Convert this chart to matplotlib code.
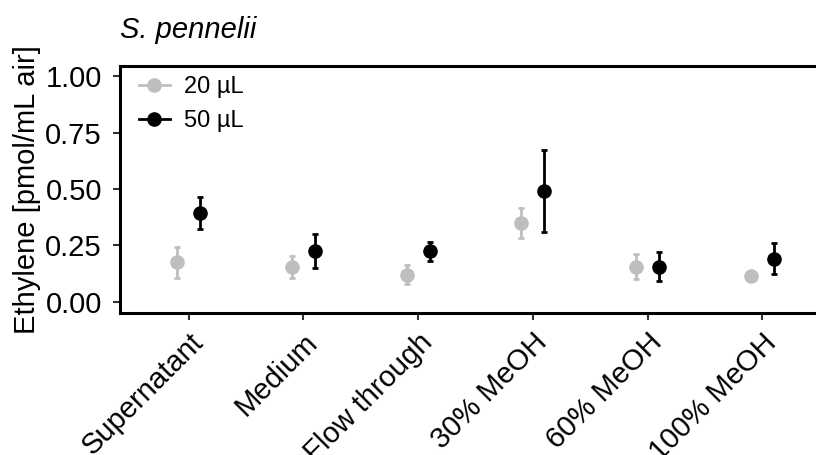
import matplotlib
matplotlib.use("Agg")
import matplotlib.pyplot as plt
from matplotlib.lines import Line2D
import numpy as np

plt.rcParams['font.family'] = ['Liberation Sans', 'DejaVu Sans']

categories = ["Supernatant", "Medium", "Flow through", "30% MeOH", "60% MeOH", "100% MeOH"]
mean_20 = [0.174, 0.153, 0.120, 0.348, 0.156, 0.115]
err_20 = [0.070, 0.050, 0.042, 0.067, 0.055, 0.008]
mean_50 = [0.393, 0.224, 0.223, 0.491, 0.155, 0.190]
err_50 = [0.072, 0.075, 0.043, 0.183, 0.064, 0.069]
series_labels = ["20 µL", "50 µL"]
colors = ["#BEBEBE", "#000000"]

W, H = 816, 455
fig = plt.figure(figsize=(W / 100, H / 100), dpi=100)
ax = fig.add_axes([120 / W, 1 - 313 / H, (831 - 120) / W, (313 - 66) / H])

x = np.arange(1, len(categories) + 1)
dodge = 0.1
for off, m, e, c in [(-dodge, mean_20, err_20, colors[0]), (dodge, mean_50, err_50, colors[1])]:
    ax.errorbar(x + off, m, yerr=e, fmt='o', color=c, ecolor=c, markersize=9.5,
                elinewidth=2.0, capsize=2.2, capthick=2.0, zorder=3)

ax.set_xlim(0.4, 6.6)
ax.set_ylim(-0.05, 1.045)
ax.set_yticks([0, 0.25, 0.5, 0.75, 1.0])
ax.set_yticklabels(["0.00", "0.25", "0.50", "0.75", "1.00"])
ax.set_xticks(x)
ax.set_xticklabels(categories, rotation=45, ha='right', va='top', rotation_mode='anchor')
ax.tick_params(axis='both', labelsize=21, length=5, width=1.5, color='#333333', labelcolor='black')
ax.tick_params(axis='y', pad=8)
ax.tick_params(axis='x', pad=6)
for s in ax.spines.values():
    s.set_linewidth(2.2)
    s.set_color('black')

ax.set_ylabel("Ethylene [pmol/mL air]", fontsize=21, labelpad=3)
ax.set_title("S. pennelii", fontsize=21, style='italic', loc='left', pad=20)

handles = [Line2D([0], [0], color=c, marker='o', markersize=9.5, linewidth=2) for c in colors]
ax.legend(handles, series_labels, loc='upper left', frameon=False, fontsize=17,
          handlelength=1.3, handletextpad=0.6, labelspacing=0.5,
          bbox_to_anchor=(0.0, 1.035), borderaxespad=0.4)

fig.savefig("out.png", dpi=100)
